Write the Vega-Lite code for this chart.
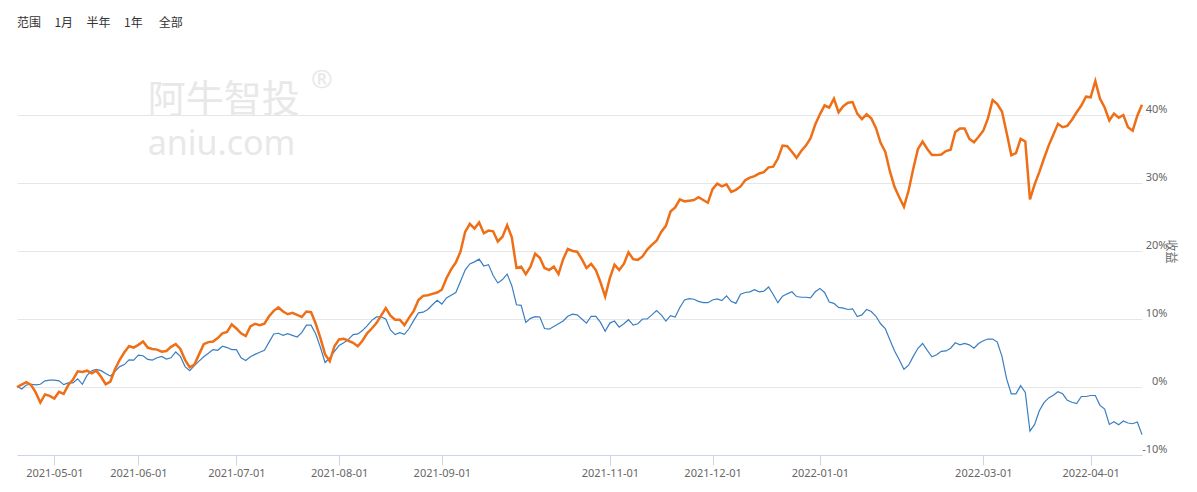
{
"$schema":"https://vega.github.io/schema/vega-lite/v6.json",
"width":1125,"height":408,
"autosize":{"type":"none"},
"padding":{"left":17,"top":47,"right":55,"bottom":37},
"background":"#ffffff",
"config":{"view":{"stroke":null},"font":"Noto Sans CJK SC"},
"title":{"text":"范围\u00a0\u00a0\u00a0\u00a0\u00a01月\u00a0\u00a0\u00a0\u00a0\u00a0半年\u00a0\u00a0\u00a0\u00a0\u00a01年\u00a0\u00a0\u00a0\u00a0\u00a0\u00a0全部","anchor":"start","frame":"group","baseline":"middle","offset":0,"dy":-12,"fontSize":12,"fontWeight":"normal","color":"#333333","font":"Noto Sans CJK SC"},
"datasets":{
"wm":[{"label":"阿牛智投","date":"2021-06-03","value":40.4,"kind":"cn"},{"label":"aniu.com","date":"2021-06-03","value":34.1,"kind":"en"},{"label":"®","date":"2021-07-23","value":43.9,"kind":"r"}],
"series":[
{"date":"2021-04-21","strategy":0,"benchmark":0.1},
{"date":"2021-04-22","strategy":0.35,"benchmark":-0.3},
{"date":"2021-04-23","strategy":0.7,"benchmark":0.3},
{"date":"2021-04-26","strategy":0.3,"benchmark":0.4},
{"date":"2021-04-27","strategy":-0.8,"benchmark":0.3},
{"date":"2021-04-28","strategy":-2.3,"benchmark":0.4},
{"date":"2021-04-29","strategy":-1.1,"benchmark":0.9},
{"date":"2021-04-30","strategy":-1.3,"benchmark":1.0},
{"date":"2021-05-06","strategy":-1.7,"benchmark":1.0},
{"date":"2021-05-07","strategy":-0.7,"benchmark":0.9},
{"date":"2021-05-10","strategy":-1.0,"benchmark":0.35},
{"date":"2021-05-11","strategy":0.3,"benchmark":0.6},
{"date":"2021-05-12","strategy":1.1,"benchmark":0.6},
{"date":"2021-05-13","strategy":2.3,"benchmark":1.2},
{"date":"2021-05-14","strategy":2.2,"benchmark":0.4},
{"date":"2021-05-17","strategy":2.4,"benchmark":1.7},
{"date":"2021-05-18","strategy":2.0,"benchmark":2.4},
{"date":"2021-05-19","strategy":2.4,"benchmark":2.6},
{"date":"2021-05-20","strategy":1.5,"benchmark":2.4},
{"date":"2021-05-21","strategy":0.4,"benchmark":2.0},
{"date":"2021-05-24","strategy":0.8,"benchmark":1.6},
{"date":"2021-05-25","strategy":2.6,"benchmark":2.3},
{"date":"2021-05-26","strategy":4.0,"benchmark":3.0},
{"date":"2021-05-27","strategy":5.1,"benchmark":3.3},
{"date":"2021-05-28","strategy":6.0,"benchmark":4.0},
{"date":"2021-05-31","strategy":5.8,"benchmark":3.95},
{"date":"2021-06-01","strategy":6.2,"benchmark":4.7},
{"date":"2021-06-02","strategy":6.7,"benchmark":4.6},
{"date":"2021-06-03","strategy":5.8,"benchmark":4.05},
{"date":"2021-06-04","strategy":5.6,"benchmark":3.95},
{"date":"2021-06-07","strategy":5.5,"benchmark":4.3},
{"date":"2021-06-08","strategy":5.2,"benchmark":4.5},
{"date":"2021-06-09","strategy":5.3,"benchmark":4.1},
{"date":"2021-06-10","strategy":5.9,"benchmark":4.3},
{"date":"2021-06-11","strategy":6.3,"benchmark":5.15},
{"date":"2021-06-15","strategy":5.6,"benchmark":4.5},
{"date":"2021-06-16","strategy":4.0,"benchmark":3.0},
{"date":"2021-06-17","strategy":2.9,"benchmark":2.4},
{"date":"2021-06-18","strategy":3.3,"benchmark":3.15},
{"date":"2021-06-21","strategy":4.8,"benchmark":3.8},
{"date":"2021-06-22","strategy":6.3,"benchmark":4.45},
{"date":"2021-06-23","strategy":6.6,"benchmark":4.95},
{"date":"2021-06-24","strategy":6.7,"benchmark":5.5},
{"date":"2021-06-25","strategy":7.2,"benchmark":5.4},
{"date":"2021-06-28","strategy":7.9,"benchmark":6.0},
{"date":"2021-06-29","strategy":8.1,"benchmark":5.8},
{"date":"2021-06-30","strategy":9.2,"benchmark":5.5},
{"date":"2021-07-01","strategy":8.6,"benchmark":5.5},
{"date":"2021-07-02","strategy":7.9,"benchmark":4.3},
{"date":"2021-07-05","strategy":7.5,"benchmark":3.9},
{"date":"2021-07-06","strategy":8.9,"benchmark":4.45},
{"date":"2021-07-07","strategy":9.3,"benchmark":4.8},
{"date":"2021-07-08","strategy":9.1,"benchmark":5.1},
{"date":"2021-07-09","strategy":9.3,"benchmark":5.4},
{"date":"2021-07-12","strategy":10.4,"benchmark":6.6},
{"date":"2021-07-13","strategy":11.2,"benchmark":7.8},
{"date":"2021-07-14","strategy":11.7,"benchmark":7.9},
{"date":"2021-07-15","strategy":11.1,"benchmark":7.6},
{"date":"2021-07-16","strategy":10.7,"benchmark":7.85},
{"date":"2021-07-19","strategy":10.9,"benchmark":7.6},
{"date":"2021-07-20","strategy":10.6,"benchmark":7.35},
{"date":"2021-07-21","strategy":10.3,"benchmark":8.0},
{"date":"2021-07-22","strategy":11.1,"benchmark":9.1},
{"date":"2021-07-23","strategy":11.0,"benchmark":9.1},
{"date":"2021-07-26","strategy":9.3,"benchmark":7.8},
{"date":"2021-07-27","strategy":7.2,"benchmark":5.8},
{"date":"2021-07-28","strategy":4.8,"benchmark":3.6},
{"date":"2021-07-29","strategy":3.8,"benchmark":4.3},
{"date":"2021-07-30","strategy":6.0,"benchmark":5.25},
{"date":"2021-08-02","strategy":7.0,"benchmark":6.1},
{"date":"2021-08-03","strategy":7.1,"benchmark":6.5},
{"date":"2021-08-04","strategy":6.8,"benchmark":7.0},
{"date":"2021-08-05","strategy":6.5,"benchmark":7.7},
{"date":"2021-08-06","strategy":6.0,"benchmark":7.8},
{"date":"2021-08-09","strategy":6.8,"benchmark":8.3},
{"date":"2021-08-10","strategy":7.9,"benchmark":9.0},
{"date":"2021-08-11","strategy":8.6,"benchmark":9.8},
{"date":"2021-08-12","strategy":9.4,"benchmark":10.3},
{"date":"2021-08-13","strategy":10.5,"benchmark":10.3},
{"date":"2021-08-16","strategy":11.6,"benchmark":10.0},
{"date":"2021-08-17","strategy":10.5,"benchmark":8.4},
{"date":"2021-08-18","strategy":9.9,"benchmark":7.7},
{"date":"2021-08-19","strategy":9.9,"benchmark":8.0},
{"date":"2021-08-20","strategy":9.1,"benchmark":7.75},
{"date":"2021-08-23","strategy":10.2,"benchmark":8.6},
{"date":"2021-08-24","strategy":11.2,"benchmark":9.8},
{"date":"2021-08-25","strategy":12.8,"benchmark":10.9},
{"date":"2021-08-26","strategy":13.4,"benchmark":11.0},
{"date":"2021-08-27","strategy":13.5,"benchmark":11.4},
{"date":"2021-08-30","strategy":13.7,"benchmark":12.1},
{"date":"2021-08-31","strategy":13.9,"benchmark":12.75},
{"date":"2021-09-01","strategy":14.3,"benchmark":12.2},
{"date":"2021-09-02","strategy":16.0,"benchmark":13.1},
{"date":"2021-09-03","strategy":17.3,"benchmark":13.5},
{"date":"2021-09-06","strategy":18.3,"benchmark":13.9},
{"date":"2021-09-07","strategy":19.9,"benchmark":15.5},
{"date":"2021-09-08","strategy":22.8,"benchmark":17.2},
{"date":"2021-09-09","strategy":24.0,"benchmark":18.1},
{"date":"2021-09-10","strategy":23.3,"benchmark":18.4},
{"date":"2021-09-13","strategy":24.2,"benchmark":18.8},
{"date":"2021-09-14","strategy":22.6,"benchmark":17.8},
{"date":"2021-09-15","strategy":23.0,"benchmark":18.0},
{"date":"2021-09-16","strategy":22.9,"benchmark":16.4},
{"date":"2021-09-17","strategy":21.4,"benchmark":15.3},
{"date":"2021-09-22","strategy":22.1,"benchmark":15.8},
{"date":"2021-09-23","strategy":23.8,"benchmark":16.6},
{"date":"2021-09-24","strategy":22.0,"benchmark":14.9},
{"date":"2021-09-27","strategy":17.5,"benchmark":12.1},
{"date":"2021-09-28","strategy":17.7,"benchmark":12.0},
{"date":"2021-09-29","strategy":16.6,"benchmark":9.5},
{"date":"2021-09-30","strategy":17.7,"benchmark":10.1},
{"date":"2021-10-08","strategy":19.6,"benchmark":10.35},
{"date":"2021-10-11","strategy":19.0,"benchmark":10.3},
{"date":"2021-10-12","strategy":17.5,"benchmark":8.6},
{"date":"2021-10-13","strategy":17.2,"benchmark":8.5},
{"date":"2021-10-14","strategy":17.7,"benchmark":8.9},
{"date":"2021-10-15","strategy":16.6,"benchmark":9.3},
{"date":"2021-10-18","strategy":18.8,"benchmark":9.7},
{"date":"2021-10-19","strategy":20.3,"benchmark":10.4},
{"date":"2021-10-20","strategy":20.0,"benchmark":10.7},
{"date":"2021-10-21","strategy":19.9,"benchmark":10.6},
{"date":"2021-10-22","strategy":18.8,"benchmark":10.0},
{"date":"2021-10-25","strategy":17.5,"benchmark":9.4},
{"date":"2021-10-26","strategy":18.1,"benchmark":10.4},
{"date":"2021-10-27","strategy":17.2,"benchmark":10.4},
{"date":"2021-10-28","strategy":15.4,"benchmark":9.5},
{"date":"2021-10-29","strategy":13.3,"benchmark":8.2},
{"date":"2021-11-01","strategy":16.0,"benchmark":9.4},
{"date":"2021-11-02","strategy":18.0,"benchmark":9.7},
{"date":"2021-11-03","strategy":17.2,"benchmark":8.8},
{"date":"2021-11-04","strategy":18.1,"benchmark":9.3},
{"date":"2021-11-05","strategy":19.8,"benchmark":9.9},
{"date":"2021-11-08","strategy":18.8,"benchmark":9.1},
{"date":"2021-11-09","strategy":18.7,"benchmark":9.3},
{"date":"2021-11-10","strategy":19.2,"benchmark":10.0},
{"date":"2021-11-11","strategy":20.2,"benchmark":10.0},
{"date":"2021-11-12","strategy":20.9,"benchmark":10.6},
{"date":"2021-11-15","strategy":21.5,"benchmark":11.25},
{"date":"2021-11-16","strategy":22.8,"benchmark":10.6},
{"date":"2021-11-17","strategy":23.7,"benchmark":9.7},
{"date":"2021-11-18","strategy":25.8,"benchmark":10.5},
{"date":"2021-11-19","strategy":26.4,"benchmark":10.3},
{"date":"2021-11-22","strategy":27.6,"benchmark":11.7},
{"date":"2021-11-23","strategy":27.3,"benchmark":12.8},
{"date":"2021-11-24","strategy":27.4,"benchmark":13.0},
{"date":"2021-11-25","strategy":27.5,"benchmark":12.9},
{"date":"2021-11-26","strategy":27.9,"benchmark":12.6},
{"date":"2021-11-29","strategy":27.5,"benchmark":12.4},
{"date":"2021-11-30","strategy":27.1,"benchmark":12.4},
{"date":"2021-12-01","strategy":29.1,"benchmark":12.8},
{"date":"2021-12-02","strategy":29.9,"benchmark":12.95},
{"date":"2021-12-03","strategy":29.5,"benchmark":12.7},
{"date":"2021-12-06","strategy":29.8,"benchmark":13.4},
{"date":"2021-12-07","strategy":28.7,"benchmark":12.6},
{"date":"2021-12-08","strategy":29.0,"benchmark":12.3},
{"date":"2021-12-09","strategy":29.5,"benchmark":13.65},
{"date":"2021-12-10","strategy":30.4,"benchmark":13.9},
{"date":"2021-12-13","strategy":30.8,"benchmark":14.0},
{"date":"2021-12-14","strategy":31.0,"benchmark":14.3},
{"date":"2021-12-15","strategy":31.4,"benchmark":14.0},
{"date":"2021-12-16","strategy":31.6,"benchmark":14.1},
{"date":"2021-12-17","strategy":32.3,"benchmark":14.7},
{"date":"2021-12-20","strategy":32.4,"benchmark":13.6},
{"date":"2021-12-21","strategy":33.6,"benchmark":12.4},
{"date":"2021-12-22","strategy":35.5,"benchmark":13.35},
{"date":"2021-12-23","strategy":35.4,"benchmark":13.7},
{"date":"2021-12-24","strategy":34.6,"benchmark":14.0},
{"date":"2021-12-27","strategy":33.7,"benchmark":13.3},
{"date":"2021-12-28","strategy":34.7,"benchmark":13.2},
{"date":"2021-12-29","strategy":35.5,"benchmark":13.2},
{"date":"2021-12-30","strategy":36.6,"benchmark":13.1},
{"date":"2021-12-31","strategy":38.6,"benchmark":14.0},
{"date":"2022-01-04","strategy":40.1,"benchmark":14.5},
{"date":"2022-01-05","strategy":41.4,"benchmark":13.9},
{"date":"2022-01-06","strategy":41.1,"benchmark":12.5},
{"date":"2022-01-07","strategy":42.4,"benchmark":12.3},
{"date":"2022-01-10","strategy":40.4,"benchmark":11.7},
{"date":"2022-01-11","strategy":41.3,"benchmark":11.6},
{"date":"2022-01-12","strategy":41.8,"benchmark":11.4},
{"date":"2022-01-13","strategy":41.9,"benchmark":11.5},
{"date":"2022-01-14","strategy":40.2,"benchmark":10.35},
{"date":"2022-01-17","strategy":39.4,"benchmark":10.6},
{"date":"2022-01-18","strategy":40.1,"benchmark":11.4},
{"date":"2022-01-19","strategy":39.5,"benchmark":11.1},
{"date":"2022-01-20","strategy":38.1,"benchmark":10.4},
{"date":"2022-01-21","strategy":35.9,"benchmark":9.3},
{"date":"2022-01-24","strategy":34.6,"benchmark":8.6},
{"date":"2022-01-25","strategy":31.7,"benchmark":6.9},
{"date":"2022-01-26","strategy":29.4,"benchmark":5.3},
{"date":"2022-01-27","strategy":27.9,"benchmark":4.0},
{"date":"2022-01-28","strategy":26.5,"benchmark":2.6},
{"date":"2022-02-07","strategy":28.9,"benchmark":3.2},
{"date":"2022-02-08","strategy":32.1,"benchmark":4.5},
{"date":"2022-02-09","strategy":35.0,"benchmark":5.7},
{"date":"2022-02-10","strategy":36.1,"benchmark":6.4},
{"date":"2022-02-11","strategy":35.0,"benchmark":5.4},
{"date":"2022-02-14","strategy":34.1,"benchmark":4.45},
{"date":"2022-02-15","strategy":34.1,"benchmark":4.75},
{"date":"2022-02-16","strategy":34.2,"benchmark":5.25},
{"date":"2022-02-17","strategy":34.7,"benchmark":5.3},
{"date":"2022-02-18","strategy":34.9,"benchmark":5.7},
{"date":"2022-02-21","strategy":37.5,"benchmark":6.5},
{"date":"2022-02-22","strategy":38.0,"benchmark":6.2},
{"date":"2022-02-23","strategy":38.0,"benchmark":6.4},
{"date":"2022-02-24","strategy":36.5,"benchmark":6.2},
{"date":"2022-02-25","strategy":36.0,"benchmark":5.7},
{"date":"2022-02-28","strategy":36.8,"benchmark":6.4},
{"date":"2022-03-01","strategy":37.7,"benchmark":6.8},
{"date":"2022-03-02","strategy":39.5,"benchmark":7.05},
{"date":"2022-03-03","strategy":42.2,"benchmark":7.05},
{"date":"2022-03-04","strategy":41.6,"benchmark":6.6},
{"date":"2022-03-07","strategy":40.5,"benchmark":4.5},
{"date":"2022-03-08","strategy":37.4,"benchmark":1.2},
{"date":"2022-03-09","strategy":34.1,"benchmark":-1.0},
{"date":"2022-03-10","strategy":34.4,"benchmark":-1.0},
{"date":"2022-03-11","strategy":36.5,"benchmark":0.2},
{"date":"2022-03-14","strategy":36.1,"benchmark":-0.8},
{"date":"2022-03-15","strategy":27.6,"benchmark":-6.5},
{"date":"2022-03-16","strategy":29.8,"benchmark":-5.5},
{"date":"2022-03-17","strategy":31.6,"benchmark":-3.5},
{"date":"2022-03-18","strategy":33.6,"benchmark":-2.3},
{"date":"2022-03-21","strategy":35.5,"benchmark":-1.6},
{"date":"2022-03-22","strategy":37.1,"benchmark":-1.2},
{"date":"2022-03-23","strategy":38.7,"benchmark":-0.7},
{"date":"2022-03-24","strategy":38.2,"benchmark":-1.0},
{"date":"2022-03-25","strategy":38.4,"benchmark":-1.95},
{"date":"2022-03-28","strategy":39.3,"benchmark":-2.25},
{"date":"2022-03-29","strategy":40.4,"benchmark":-2.45},
{"date":"2022-03-30","strategy":41.4,"benchmark":-1.4},
{"date":"2022-03-31","strategy":42.7,"benchmark":-1.4},
{"date":"2022-04-01","strategy":42.6,"benchmark":-1.25},
{"date":"2022-04-06","strategy":45.0,"benchmark":-1.25},
{"date":"2022-04-07","strategy":42.4,"benchmark":-2.7},
{"date":"2022-04-08","strategy":41.1,"benchmark":-3.25},
{"date":"2022-04-11","strategy":39.2,"benchmark":-5.5},
{"date":"2022-04-12","strategy":40.2,"benchmark":-5.1},
{"date":"2022-04-13","strategy":39.6,"benchmark":-5.55},
{"date":"2022-04-14","strategy":40.0,"benchmark":-5.0},
{"date":"2022-04-15","strategy":38.2,"benchmark":-5.3},
{"date":"2022-04-18","strategy":37.7,"benchmark":-5.4},
{"date":"2022-04-19","strategy":39.9,"benchmark":-5.15},
{"date":"2022-04-20","strategy":41.5,"benchmark":-7.0}
]},
"data":{"name":"series"},
"encoding":{
  "x":{"field":"date","type":"ordinal","scale":{"type":"point","padding":0},
    "axis":{"values":["2021-05-06","2021-06-01","2021-07-01","2021-08-02","2021-09-01","2021-11-01","2021-12-01","2022-01-04","2022-03-01","2022-04-01"],
      "labelExpr":"slice(datum.value,0,8) + '01'","labelAngle":0,"title":null,"grid":false,
      "domainColor":"#ccd6eb","tickColor":"#ccd6eb","tickSize":10,"labelPadding":2,
      "labelColor":"#666666","labelFontSize":11,"labelFont":"Noto Sans","labelOverlap":false}},
  "y":{"field":"value","type":"quantitative","scale":{"domain":[-10,50],"nice":false,"zero":false},
    "axis":{"orient":"right","values":[-10,0,10,20,30,40],"labelExpr":"datum.value + '%'","domain":false,"ticks":false,
      "labelPadding":25,"labelAlign":"right","labelBaseline":"middle","labelOffset":-6,
      "labelColor":"#666666","labelFontSize":11,"labelFont":"Noto Sans","gridColor":"#e6e6e6",
      "title":"收益","titleAngle":90,"titleFontWeight":"normal","titleFontSize":12,"titleColor":"#666666","titlePadding":-4}}
},
"layer":[
  {"data":{"name":"wm"},"transform":[{"filter":"datum.kind == 'cn'"}],
   "mark":{"type":"text","align":"left","baseline":"alphabetic","fontSize":38,"color":"#e8e8e8","font":"Noto Sans CJK SC"},
   "encoding":{"text":{"field":"label","type":"nominal"}}},
  {"data":{"name":"wm"},"transform":[{"filter":"datum.kind == 'en'"}],
   "mark":{"type":"text","align":"left","baseline":"alphabetic","fontSize":34,"color":"#e8e8e8","font":"Noto Sans"},
   "encoding":{"text":{"field":"label","type":"nominal"}}},
  {"data":{"name":"wm"},"transform":[{"filter":"datum.kind == 'r'"}],
   "mark":{"type":"text","align":"left","baseline":"alphabetic","fontSize":26,"color":"#e8e8e8","font":"Noto Sans"},
   "encoding":{"text":{"field":"label","type":"nominal"}}},
  {"transform":[{"fold":["benchmark"],"as":["series","value"]}],
   "mark":{"type":"line","color":"#3a7ec2","strokeWidth":1.2}},
  {"transform":[{"fold":["strategy"],"as":["series","value"]}],
   "mark":{"type":"line","color":"#ee6f16","strokeWidth":2.5}}
]
}
